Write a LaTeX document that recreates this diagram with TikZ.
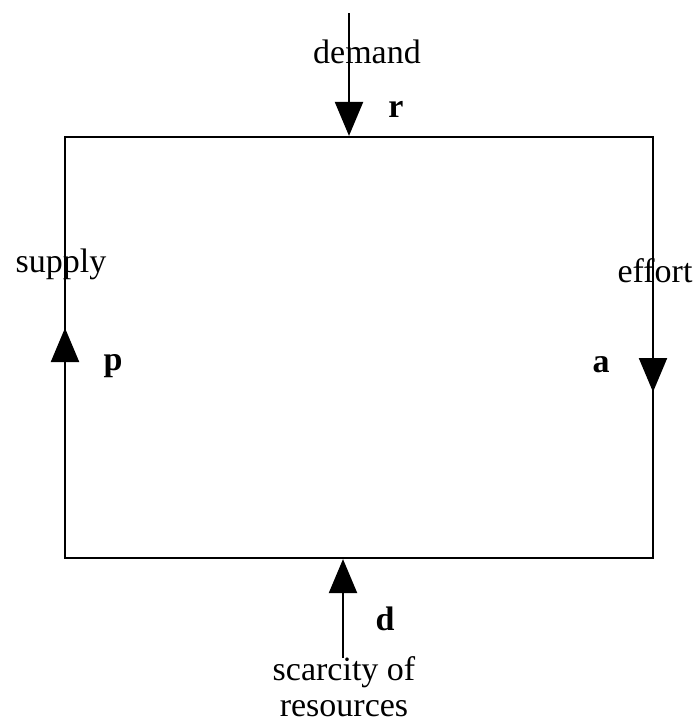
\documentclass[tikz,border=0pt]{standalone}
\usepackage{fontspec}
\setmainfont{Liberation Serif}
\usepackage{tikz}
\usetikzlibrary{arrows.meta}

\begin{document}
\begin{tikzpicture}[
  x=1pt, y=-1pt,
  flow/.style={-{Triangle[length=34pt, width=28pt]}, line width=2.2pt},
  frame/.style={rectangle, draw, line width=2.2pt, minimum width=588pt,
                minimum height=421pt, inner sep=0pt},
  lbl/.style={font=\fontsize{34}{36}\selectfont, inner sep=0pt, anchor=base},
  var/.style={font=\fontsize{34}{36}\selectfont\bfseries, inner sep=0pt, anchor=base},
  every node/.style={align=center}
]
\useasboundingbox (0,0) rectangle (698,720);

\node[frame] (box) at (359,347.5) {};

% inputs and outputs
\coordinate (dem) at (349,13);
\coordinate (scar) at (343,658);
\coordinate (effA) at (653,190);
\coordinate (effB) at (653,392);
\coordinate (supA) at (65,480);
\coordinate (supB) at (65,328);

\draw[flow] (dem) -- (dem |- box.north);
\draw[flow] (scar) -- (scar |- box.south);
\draw[flow] (effA) -- (effB);
\draw[flow] (supA) -- (supB);

% labels
\node[lbl] (demand) at (367,63) {demand};
\node[var] (r) at (396,117) {r};
\node[lbl] (supply) at (61,272) {supply};
\node[var] (p) at (113,370) {p};
\node[lbl] (effort) at (655,282) {effort};
\node[var] (a) at (601,372) {a};
\node[var] (d) at (385,630) {d};
\node[lbl] (scarcity) at (344,716) {scarcity of\\resources};
\end{tikzpicture}
\end{document}
